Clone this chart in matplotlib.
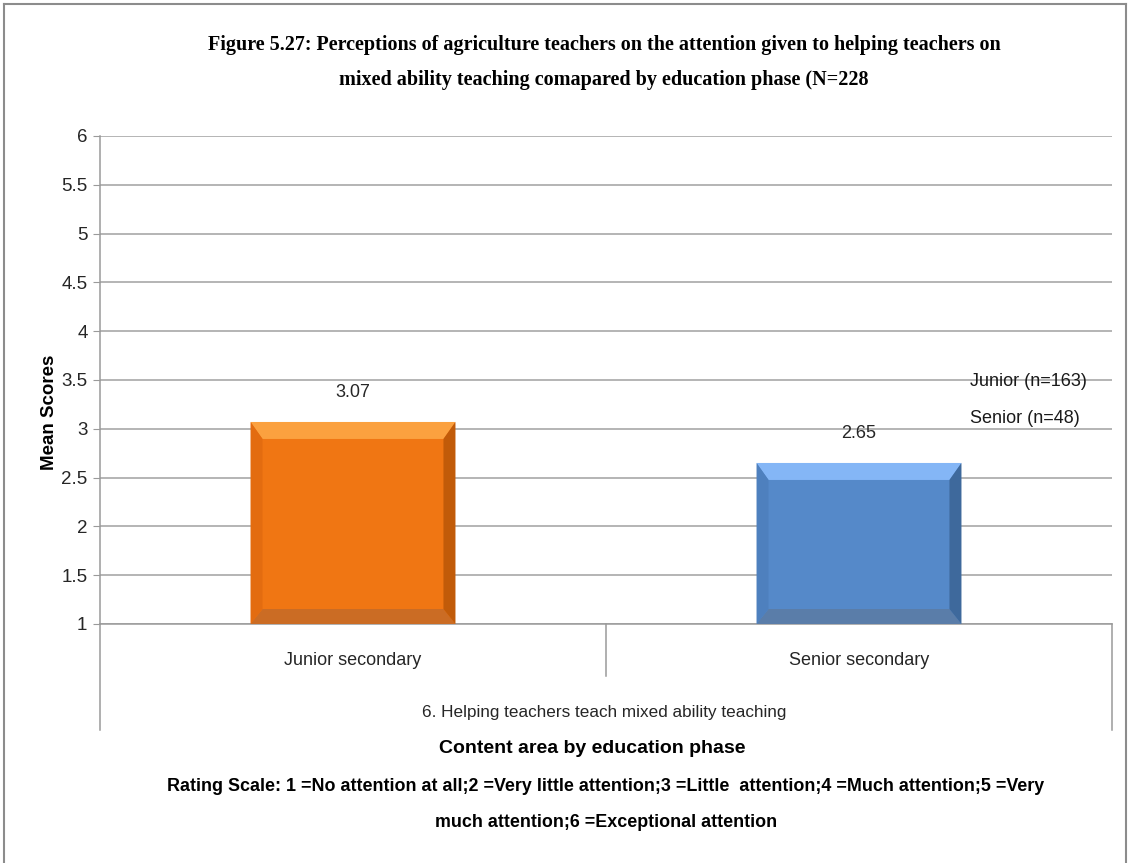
import numpy as np
import matplotlib
matplotlib.use("Agg")
import matplotlib.pyplot as plt
from matplotlib import font_manager
from matplotlib.patches import Polygon
from matplotlib.lines import Line2D

# datos
categories = ["Junior secondary", "Senior secondary"]
mean_scores = [3.07, 2.65]
value_labels = ["3.07", "2.65"]
legend_lines = ["Junior (n=163)", "Senior (n=48)"]
y_ticks = [1, 1.5, 2, 2.5, 3, 3.5, 4, 4.5, 5, 5.5, 6]
y_tick_labels = ["1", "1.5", "2", "2.5", "3", "3.5", "4", "4.5", "5", "5.5", "6"]
group_label = "6. Helping teachers teach mixed ability teaching"
title_lines = ["Figure 5.27: Perceptions of agriculture teachers on the attention given to helping teachers on",
               "mixed ability teaching comapared by education phase (N=228"]
x_title = "Content area by education phase"
scale_lines = ["Rating Scale: 1 =No attention at all;2 =Very little attention;3 =Little  attention;4 =Much attention;5 =Very",
               "much attention;6 =Exceptional attention"]

# colores: cara, arriba, izquierda, derecha, abajo
bar_colors = [
    dict(face="#F07613", top="#FBA13F", left="#E36C10", right="#C15B09", bottom="#CB6C24"),
    dict(face="#5589C9", top="#84B6F6", left="#4E80BE", right="#3E699C", bottom="#5A7DA9"),
]

available = {f.name for f in font_manager.fontManager.ttflist}
narrow = "Liberation Sans Narrow" if "Liberation Sans Narrow" in available else "Liberation Sans"

W, H = 1130, 863
fig = plt.figure(figsize=(W / 100, H / 100), dpi=100)

# marco gris de la figura
for xs, ys in [([4, 4], [4, H]), ([4, W - 4], [4, 4]), ([W - 4, W - 4], [4, H])]:
    fig.add_artist(Line2D([x / W for x in xs], [1 - y / H for y in ys], color="#8C8C8C", lw=1.5))

ax_l, ax_r, ax_t, ax_b = 100, 1112, 136, 624
ax = fig.add_axes([ax_l / W, 1 - ax_b / H, (ax_r - ax_l) / W, (ax_b - ax_t) / H])
ax.set_xlim(-0.5, 1.5)
ax.set_ylim(1, 6)

ax.set_yticks(y_ticks)
ax.set_yticklabels(y_tick_labels, fontsize=13.5, family=narrow, color="#262626")
ax.tick_params(axis="y", length=5, color="#9A9A9A", pad=4)
ax.set_xticks([])
ax.grid(axis="y", color="#A0A0A0", lw=1.1)
ax.set_axisbelow(True)
for s in ["top", "right"]:
    ax.spines[s].set_visible(False)
ax.spines["left"].set_color("#9A9A9A")
ax.spines["bottom"].set_color("#9A9A9A")
ax.spines["left"].set_linewidth(1.1)
ax.spines["bottom"].set_linewidth(1.1)

xpos = np.arange(len(categories))
vals = np.array(mean_scores)
bars = ax.bar(xpos, vals - 1, bottom=1, width=0.405, color=[c["face"] for c in bar_colors],
              edgecolor="none", zorder=3)

# bisel de las barras
dx = 12 * 2.0 / (ax_r - ax_l)
dy_top = 17 * 5.0 / (ax_b - ax_t)
dy_bot = 15 * 5.0 / (ax_b - ax_t)
for b, c in zip(bars, bar_colors):
    x0, y0 = b.get_x(), b.get_y()
    x1, y1 = x0 + b.get_width(), y0 + b.get_height()
    polys = [
        ([(x0, y1), (x1, y1), (x1 - dx, y1 - dy_top), (x0 + dx, y1 - dy_top)], c["top"]),
        ([(x0, y0), (x1, y0), (x1 - dx, y0 + dy_bot), (x0 + dx, y0 + dy_bot)], c["bottom"]),
        ([(x0, y0), (x0 + dx, y0 + dy_bot), (x0 + dx, y1 - dy_top), (x0, y1)], c["left"]),
        ([(x1, y0), (x1 - dx, y0 + dy_bot), (x1 - dx, y1 - dy_top), (x1, y1)], c["right"]),
    ]
    for pts, col in polys:
        ax.add_patch(Polygon(pts, closed=True, facecolor=col, edgecolor="none", zorder=4))

for xi, v, lab in zip(xpos, vals, value_labels):
    ax.annotate(lab, (xi, v), xytext=(0, 15), textcoords="offset points", ha="center", va="bottom",
                fontsize=13, family=narrow, color="#262626")

# leyenda como texto
fig.text(970 / W, 1 - 381 / H, legend_lines[0], fontsize=13, family=narrow, color="#1A1A1A", va="center")
fig.text(970 / W, 1 - 418 / H, legend_lines[1], fontsize=13, family=narrow, color="#1A1A1A", va="center")

# zona de categorias bajo el eje
line_kw = dict(color="#9A9A9A", lw=1.1)
fig.add_artist(Line2D([ax_l / W, ax_l / W], [1 - ax_b / H, 1 - 730 / H], **line_kw))
fig.add_artist(Line2D([ax_r / W, ax_r / W], [1 - ax_b / H, 1 - 730 / H], **line_kw))
fig.add_artist(Line2D([606 / W, 606 / W], [1 - ax_b / H, 1 - 676 / H], **line_kw))
for xi, cat in zip(xpos, categories):
    ax.text(xi, -0.075, cat, transform=ax.get_xaxis_transform(), ha="center", va="center",
            fontsize=13, family=narrow, color="#262626")
fig.text(604 / W, 1 - 712 / H, group_label, ha="center", va="center", fontsize=12.3, family=narrow,
         color="#262626")

fig.text(592 / W, 1 - 748 / H, x_title, ha="center", va="center", fontsize=14, family=narrow,
         fontweight="bold", color="black")
for yy, line in zip([786, 822], scale_lines):
    fig.text(606 / W, 1 - yy / H, line, ha="center", va="center", fontsize=12.9, family=narrow,
             fontweight="bold", color="black")

for yy, line in zip([45, 80], title_lines):
    fig.text(604 / W, 1 - yy / H, line, ha="center", va="center", fontsize=14.5, family="Liberation Serif",
             fontweight="bold", color="black")
fig.text(50 / W, 1 - 412 / H, "Mean Scores", rotation=90, ha="center", va="center", fontsize=13.5,
         family="Liberation Sans", fontweight="bold", color="black")

fig.savefig("out.png", dpi=100)
